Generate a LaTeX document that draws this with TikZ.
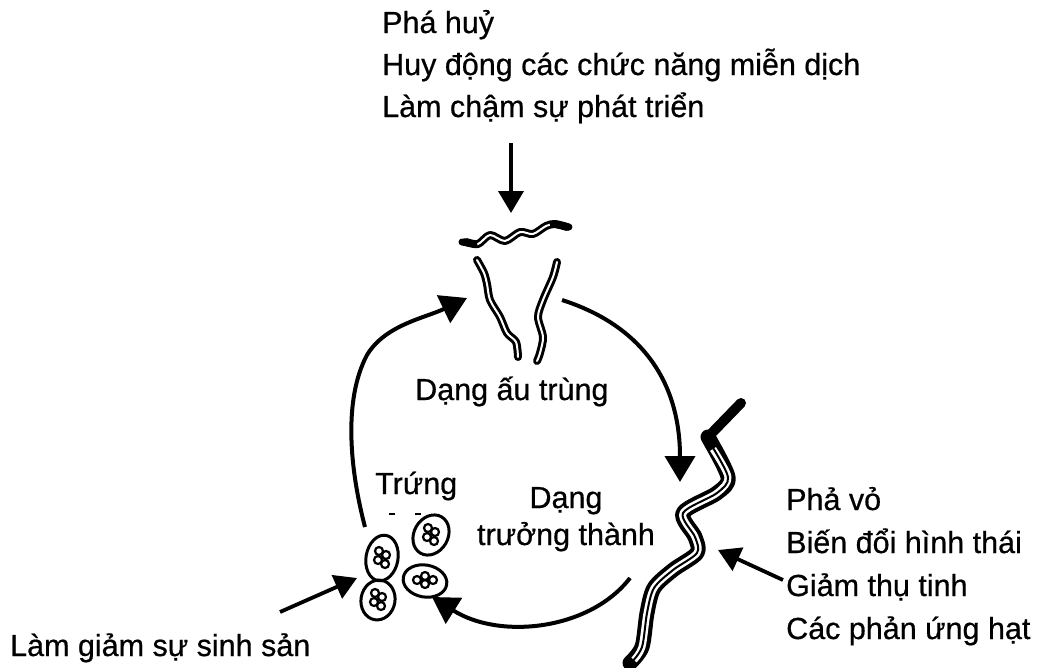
\documentclass[tikz,border=0pt]{standalone}
\usepackage{fontspec}
\setmainfont[FakeBold=0.6]{Liberation Sans}
\usetikzlibrary{arrows.meta}
\begin{document}
\begin{tikzpicture}[x=1pt,y=-1pt,
  lbl/.style={anchor=base west,inner sep=0pt,font=\fontsize{30.5}{42}\selectfont},
  lblc/.style={anchor=base,inner sep=0pt,font=\fontsize{30.5}{42}\selectfont},
  cyc/.style={line width=4pt,-{Triangle[length=26pt,width=30pt]}},
  ptr/.style={line width=3.8pt,-{Triangle[length=22pt,width=25pt]}},
  worm/.style={draw=black,double=white,double distance=2pt,line width=3pt,line cap=round,line join=round},
  egg/.style={draw=black,line width=3pt},
  yolk/.style={draw=black,line width=2.2pt},
]
\useasboundingbox (0,0) rectangle (1041,667);

% effects on the larva
\node[lbl] (t1) at (382,33)  {Phá huỷ};
\node[lbl] (t2) at (382,75)  {Huy động các chức năng miễn dịch};
\node[lbl] (t3) at (382,117) {Làm chậm sự phát triển};

% effects on the adult worm
\node[lbl] (r1) at (786,510) {Phả vỏ};
\node[lbl] (r2) at (786,553) {Biến đổi hình thái};
\node[lbl] (r3) at (786,596) {Giảm thụ tinh};
\node[lbl] (r4) at (786,639) {Các phản ứng hạt};

% effect on the eggs
\node[lbl] (b1) at (10,656) {Làm giảm sự sinh sản};

% stage names
\node[lbl]  (larva) at (415,400) {Dạng ấu trùng};
\node[lbl]  (eggs)  at (375,494) {Trứng};
\node[lblc] (ad1)   at (566,508) {Dạng};
\node[lblc] (ad2)   at (566,545) {trưởng thành};

% larvae
\draw[worm] plot[smooth] coordinates {(466,242) (478,244) (490,235) (505,241) (520,232) (533,234) (546,226) (555,224) (567,227)};
\draw[line width=7pt,line cap=round] (462,242) -- (474,244);
\draw[line width=7pt,line cap=round] (553,224) -- (569,227);
\draw[worm] plot[smooth] coordinates {(477,260) (484,273) (487,284) (490,300) (500,317) (507,333) (516,342) (518,357)};
\draw[worm] plot[smooth] coordinates {(557,262) (553,277) (543,300) (538,317) (543,337) (540,353) (537,361)};

% adult worm
\draw[line width=10pt,line cap=round] (741,403) -- (708,437);
\draw[line width=15pt,line cap=round,line join=round] plot[smooth,tension=0.5] coordinates {(708,437) (728,477) (717,493) (683,513) (695,537) (697,553) (673,570) (654,588) (647,613) (642,647) (630,663)};
\draw[line width=7pt,white,line cap=butt,line join=round] plot[smooth,tension=0.5] coordinates {(713,449) (728,477) (717,493) (683,513) (695,537) (697,553) (673,570) (654,588) (647,613) (642,647) (634,660)};
\draw[line width=2pt,line join=round] plot[smooth,tension=0.5] coordinates {(710,443) (728,477) (717,493) (683,513) (695,537) (697,553) (673,570) (654,588) (647,613) (642,647) (631,663)};

% eggs
\foreach \cx/\cy/\rx/\ry/\rot in {431/535/17/21/-30, 382/558/16/23/-10, 425/581/22/16/-10, 378/600/17/20/-10}
  \draw[egg,rotate around={\rot:(\cx,\cy)}] (\cx,\cy) ellipse [x radius=\rx pt, y radius=\ry pt];
\foreach \cx/\cy in {431/535, 382/558, 378/600}
  \foreach \dx/\dy in {-3/-7, 4/-3, -4/2, 3/6}
    \draw[yolk] (\cx+\dx,\cy+\dy) circle [radius=4pt];
\foreach \dx/\dy in {-8/-1, 0/-5, 0/3, 8/-1}
  \draw[yolk] (425+\dx,581+\dy) circle [radius=4pt];
\draw[line width=1.8pt] (389,514) -- (395,514);
\draw[line width=1.8pt] (415,514) -- (421,514);

% anchor points of the cycle and pointer arrows
\coordinate (eTop)  at (365,527);
\coordinate (lIn)   at (467,298);
\coordinate (lOut)  at (562,300);
\coordinate (aIn)   at (680,482);
\coordinate (aOut)  at (630,578);
\coordinate (eIn)   at (432,597);
\coordinate (topS)  at (511,143);
\coordinate (topE)  at (511,213);
\coordinate (botS)  at (280,612);
\coordinate (botE)  at (357,578);
\coordinate (rgtS)  at (783,580);
\coordinate (rgtE)  at (718,550);

% life cycle
\draw[cyc] (eTop) .. controls (350,470) and (343,400) .. (367,355) .. controls (385,325) and (425,318) .. (lIn);
\draw[cyc] (lOut) .. controls (640,325) and (680,380) .. (aIn);
\draw[cyc] (aOut) .. controls (590,630) and (500,640) .. (eIn);

% pointers
\draw[ptr] (topS) -- (topE);
\draw[ptr] (botS) -- (botE);
\draw[ptr] (rgtS) -- (rgtE);
\end{tikzpicture}
\end{document}
